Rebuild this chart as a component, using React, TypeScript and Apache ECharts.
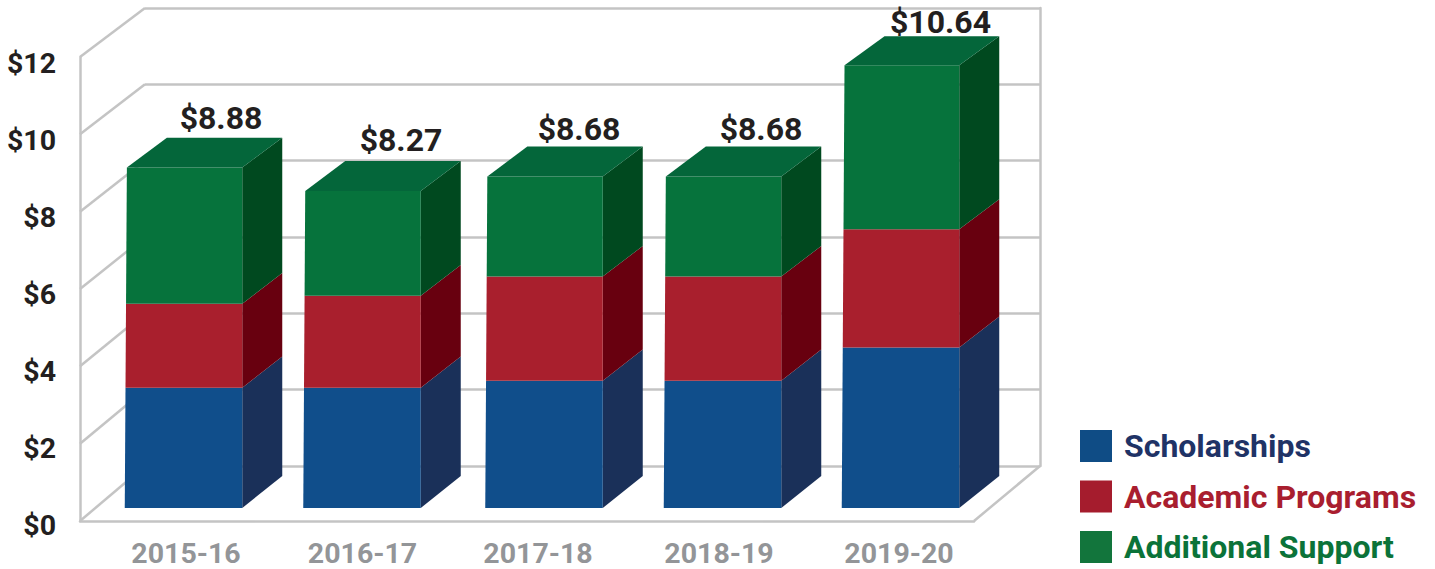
import React, { useEffect, useRef } from "react";
import * as echarts from "echarts";

const categories = ["2015-16", "2016-17", "2017-18", "2018-19", "2019-20"];
const scholarships = [3.14, 3.14, 3.32, 3.32, 4.19];
const academicPrograms = [2.19, 2.4, 2.72, 2.72, 3.08];
const additionalSupport = [3.55, 2.73, 2.61, 2.61, 4.28];
const totalLabels = ["$8.88", "$8.27", "$8.68", "$8.68", "$10.64"];
const wallTicks = [0, 2, 4, 6, 8, 10, 12];

// layout fine-tuning, in pixels (per category)
const barNudgeX = [0, -0.5, 2.5, 2, 1];
const xLabelNudge = [2.5, 0, -3.5, -1.5, -0.5];
const totalNudgeX = [37.5, 39, 35, 38.5, 40];
const totalNudgeY = [-20, -21, -18, -18, -14];

const FONT = "Roboto";
const BAR_W = 117.5;
const DEPTH_X = 40;
const depthY = (v: number) => 32 - 0.25 * v;
const leftLean = (v: number) => 0.24 * v;

const TONES = [
  { name: "Scholarships", front: "#104E8B", side: "#1A3059", legend: "#0F4C85", text: "#1F3366" },
  { name: "Academic Programs", front: "#A91F2D", side: "#68000F", legend: "#A51C2D", text: "#A91E2F" },
  { name: "Additional Support", front: "#06733C", side: "#00491F", top: "#04663A", legend: "#12753C", text: "#0B7339" },
];

const stackRows = (lower: number[][], values: number[]) => {
  return values.map((v, i) => {
    const from = lower.reduce((s, arr) => s + arr[i], 0);
    return [i, from, from + v];
  });
};

const renderBar = (tone: any) => (_p: any, api: any) => {
  const i = api.value(0);
  const from = api.value(1);
  const to = api.value(2);
  const [cx, y0] = api.coord([i, from]);
  const [, y1] = api.coord([i, to]);
  const c = cx + barNudgeX[i];
  const r = c + BAR_W / 2;
  const l = c - BAR_W / 2;
  const children: any[] = [
    {
      type: "polygon",
      shape: { points: [[r, y0], [r + DEPTH_X, y0 - depthY(from)], [r + DEPTH_X, y1 - depthY(to)], [r, y1]] },
      style: { fill: tone.side },
    },
    {
      type: "polygon",
      shape: { points: [[l + leftLean(from), y0], [r, y0], [r, y1], [l + leftLean(to), y1]] },
      style: { fill: tone.front },
    },
  ];
  if (tone.top) {
    const d = depthY(to);
    children.push({
      type: "polygon",
      shape: { points: [[l + leftLean(to), y1], [r, y1], [r + DEPTH_X, y1 - d], [l + leftLean(to) + DEPTH_X, y1 - d]] },
      style: { fill: tone.top },
    });
  }
  return { type: "group", children };
};

export default function App() {
  const ref = useRef<HTMLDivElement>(null);
  useEffect(() => {
    const chart = echarts.init(ref.current!, undefined, { renderer: "svg" });
    const lineStyle = { color: "#C4C4C4", width: 2.5 };
    const rich: any = {};
    xLabelNudge.forEach((n, i) => {
      rich["c" + i] = {
        fontFamily: FONT,
        fontWeight: "bold",
        fontSize: 28.5,
        color: "#939598",
        padding: n > 0 ? [0, 0, 0, 2 * n] : [0, -2 * n, 0, 0],
      };
    });

    const lower1 = [scholarships];
    const lower2 = [scholarships, academicPrograms];
    const totals = stackRows([scholarships, academicPrograms], additionalSupport);
    const hiddenX = {
      type: "value", min: 0, max: 1,
      axisLine: { show: false }, axisTick: { show: false }, axisLabel: { show: false }, splitLine: { show: false },
    };

    chart.setOption({
      animation: false,
      backgroundColor: "#ffffff",
      grid: [
        { left: 80, width: 894, top: 57, height: 464 },
        { left: 145, width: 895, top: 8, height: 458 },
        { left: 94, width: 895, top: 48, height: 460 },
        { left: 80, width: 894, top: 63, height: 462 },
      ],
      xAxis: [
        { ...hiddenX, gridIndex: 0, axisLine: { show: true, onZero: false, lineStyle } },
        { ...hiddenX, gridIndex: 1 },
        {
          gridIndex: 2, type: "category", data: categories,
          axisLine: { show: false }, axisTick: { show: false },
          axisLabel: {
            margin: 31,
            interval: 0,
            formatter: (v: string, i: number) => `{c${i}|${v}}`,
            rich,
          },
        },
        { ...hiddenX, gridIndex: 3 },
      ],
      yAxis: [
        {
          gridIndex: 0, type: "value", min: 0, max: 12, interval: 2,
          axisLine: { show: true, onZero: false, lineStyle }, axisTick: { show: false }, splitLine: { show: false },
          axisLabel: { show: false },
        },
        {
          gridIndex: 1, type: "value", min: 0, max: 12, interval: 2, position: "right",
          axisLine: { show: true, onZero: false, lineStyle }, axisTick: { show: false }, axisLabel: { show: false },
          splitLine: { show: true, lineStyle },
        },
        { gridIndex: 2, type: "value", min: 0, max: 12, show: false },
        {
          gridIndex: 3, type: "value", min: 0, max: 12, interval: 2,
          axisLine: { show: false }, axisTick: { show: false }, splitLine: { show: false },
          axisLabel: {
            margin: 24,
            formatter: (v: number) => "$" + v,
            fontFamily: FONT, fontWeight: "bold", fontSize: 28.5, color: "#231F20",
          },
        },
      ],
      legend: {
        left: 1080,
        top: 430,
        padding: 0,
        orient: "vertical",
        itemWidth: 32,
        itemHeight: 32,
        itemGap: 18.5,
        selectedMode: false,
        data: TONES.map((t) => ({
          name: t.name,
          icon: "rect",
          itemStyle: { color: t.legend },
          textStyle: { color: t.text, fontFamily: FONT, fontWeight: "bold", fontSize: 32, padding: [0, 0, 0, 7] },
        })),
      },
      series: [
        {
          type: "custom",
          name: "walls",
          xAxisIndex: 1,
          yAxisIndex: 1,
          silent: true,
          data: [...wallTicks.map((v) => [0, v]), [1, 0]],
          encode: { x: 0, y: 1 },
          renderItem: (_p: any, api: any) => {
            const corner = api.value(0);
            const v = api.value(1);
            const front = chart.convertToPixel({ xAxisIndex: 0, yAxisIndex: 0 }, [corner, v]);
            const back = api.coord([corner, v]);
            return {
              type: "line",
              shape: { x1: front[0], y1: front[1], x2: back[0], y2: back[1] },
              style: { stroke: "#C4C4C4", lineWidth: 2.5, fill: "none" },
            };
          },
        },
        ...[scholarships, academicPrograms, additionalSupport].map((vals, k) => ({
          type: "custom",
          name: TONES[k].name,
          xAxisIndex: 2,
          yAxisIndex: 2,
          itemStyle: { color: TONES[k].legend },
          data: stackRows(k === 0 ? [] : k === 1 ? lower1 : lower2, vals),
          encode: { x: 0, y: [1, 2] },
          renderItem: renderBar(TONES[k]),
        })),
        {
          type: "custom",
          name: "totals",
          xAxisIndex: 2,
          yAxisIndex: 2,
          silent: true,
          data: totals,
          encode: { x: 0, y: 2 },
          renderItem: (_p: any, api: any) => {
            const i = api.value(0);
            const to = api.value(2);
            const [cx, y] = api.coord([i, to]);
            return {
              type: "text",
              x: cx + totalNudgeX[i] + barNudgeX[i],
              y: y - depthY(to) + totalNudgeY[i],
              style: {
                text: totalLabels[i],
                fontFamily: FONT,
                fontWeight: "bold",
                fontSize: 32,
                fill: "#231F20",
                align: "center",
                verticalAlign: "middle",
              },
            };
          },
        },
      ],
    });
    return () => chart.dispose();
  }, []);
  return <div ref={ref} style={{ position: "fixed", left: 0, top: 0, width: 1435, height: 569 }} />;
}
